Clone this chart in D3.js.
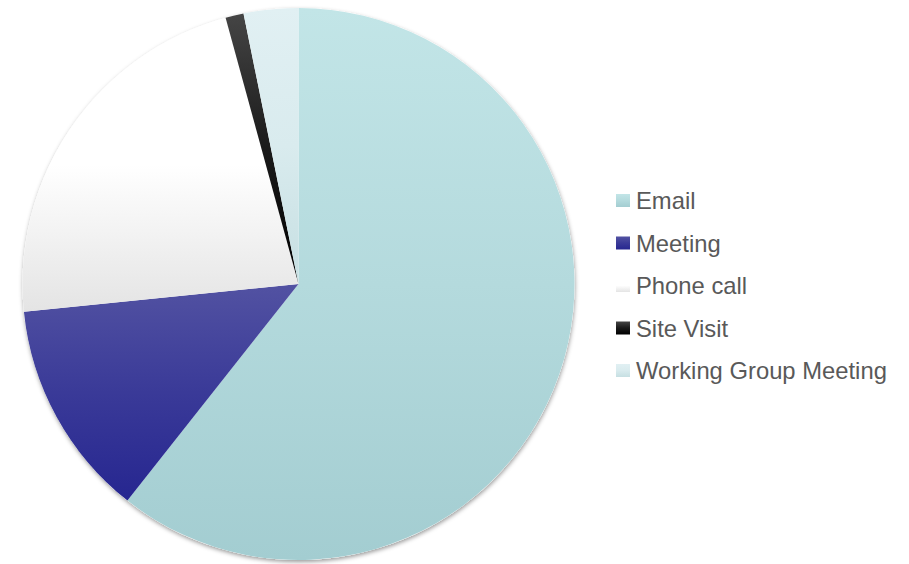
<!DOCTYPE html>
<html>
<head>
<meta charset="utf-8">
<script src="https://cdn.jsdelivr.net/npm/d3@7"></script>
<style>
  body { margin: 0; background: #fff; }
  text { font-family: "Liberation Sans", Arial, sans-serif; }
</style>
</head>
<body>
<div id="chart"></div>
<script>
var width = 909, height = 564;

var categories = ["Email", "Meeting", "Phone call", "Site Visit", "Working Group Meeting"];
var values = [57, 12, 21, 1, 3];
// gradient stops per slice: top, middle, bottom
var topColors = ["#c2e5e7", "#5252a2", "#ffffff", "#454545", "#e1f0f3"];
var midColors = ["#b4dadd", "#3a3a98", "#ffffff", "#1a1a1a", "#d9ebee"];
var bottomColors = ["#a3cdd1", "#262690", "#e4e4e4", "#000000", "#c6dfe2"];

var cx = 298.5, cy = 284, radius = 276;

var svg = d3.select("#chart").append("svg")
  .attr("width", width)
  .attr("height", height);

var defs = svg.append("defs");

var shadow = defs.append("filter")
  .attr("id", "shadow")
  .attr("x", "-10%").attr("y", "-10%")
  .attr("width", "120%").attr("height", "120%");
shadow.append("feDropShadow")
  .attr("dx", 0.5).attr("dy", 2)
  .attr("stdDeviation", 2.2)
  .attr("flood-color", "#000")
  .attr("flood-opacity", 0.4);

categories.forEach(function(c, i) {
  var g = defs.append("linearGradient")
    .attr("id", "grad" + i)
    .attr("x1", 0).attr("y1", 0)
    .attr("x2", 0).attr("y2", 1);
  g.append("stop").attr("offset", "0%").attr("stop-color", topColors[i]);
  g.append("stop").attr("offset", "50%").attr("stop-color", midColors[i]);
  g.append("stop").attr("offset", "100%").attr("stop-color", bottomColors[i]);
});

var pie = d3.pie().sort(null).value(function(d) { return d; });
var arc = d3.arc().innerRadius(0).outerRadius(radius);

var pieG = svg.append("g")
  .attr("transform", "translate(" + cx + "," + cy + ")");

// shadow disc under the slices
pieG.append("circle")
  .attr("r", radius)
  .attr("fill", "#fff")
  .attr("filter", "url(#shadow)");

pieG.selectAll("path.slice")
  .data(pie(values))
  .enter().append("path")
  .attr("class", "slice")
  .attr("d", arc)
  .attr("fill", function(d, i) { return "url(#grad" + i + ")"; });

// legend
var legend = svg.append("g")
  .attr("transform", "translate(616,194)");

var rows = legend.selectAll("g.row")
  .data(categories)
  .enter().append("g")
  .attr("class", "row")
  .attr("transform", function(d, i) { return "translate(0," + (i * 42.5) + ")"; });

rows.append("rect")
  .attr("width", 14)
  .attr("height", 13)
  .attr("fill", function(d, i) { return "url(#grad" + i + ")"; });

rows.append("text")
  .attr("x", 20)
  .attr("y", 15)
  .attr("font-size", "23.8px")
  .attr("fill", "#595959")
  .text(function(d) { return d; });
</script>
</body>
</html>
